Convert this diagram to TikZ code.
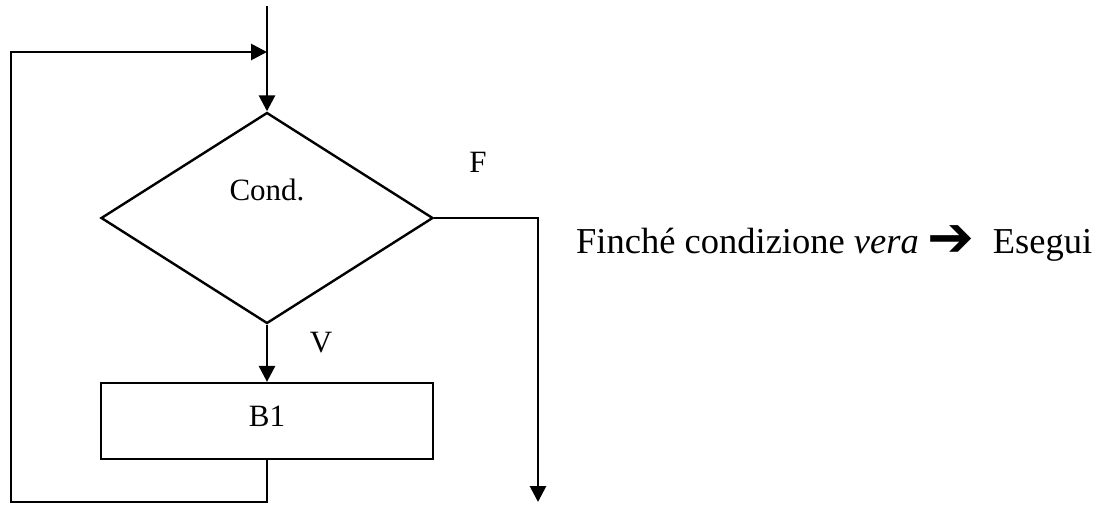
\documentclass[tikz,border=0pt]{standalone}
\usepackage{fontspec}
\setmainfont{Liberation Serif}
\newfontfamily\symfont{DejaVu Sans}
\usetikzlibrary{arrows.meta,positioning,shapes.geometric}

\begin{document}
\begin{tikzpicture}[
  x=1pt,y=-1pt,
  every node/.style={font=\fontsize{31}{36}\selectfont},
  dec/.style={diamond,draw,line width=2.4pt,minimum width=332pt,minimum height=211pt,inner sep=0pt},
  box/.style={draw,line width=2.2pt,minimum width=332pt,minimum height=76pt},
  line/.style={line width=2.8pt},
  arr/.style={line,-{Triangle[length=16pt,width=16pt]}}
]
\useasboundingbox (0,0) rectangle (1109,504);
\node[dec] (cond) at (267,218) {};
\node (condtext) at (267,190) {Cond.};
\node[box] (b1) at (267,421) {};
\node (b1text) at (267,416) {B1};
\node (vlabel) at (321,343) {V};
\node (flabel) at (478,162) {F};
\node[anchor=base west,inner sep=0pt,font=\fontsize{36.5}{42}\selectfont] (rule) at (576,253)
  {Finché condizione \textit{vera} {\symfont\fontsize{56}{60}\selectfont\raisebox{-3pt}{➔}}\hspace{18pt}Esegui};
\coordinate (start) at (267,6);
\coordinate (loopin) at (267,52);
\coordinate (lowleft) at (11,502);
\coordinate (exit) at (538,502);
\draw[arr] (start) -- (cond.north);
\draw[arr] (cond.south) -- (b1.north);
\draw[arr] (b1.south) |- (lowleft) |- (loopin);
\draw[arr] (cond.east) -| (exit);
\end{tikzpicture}
\end{document}
